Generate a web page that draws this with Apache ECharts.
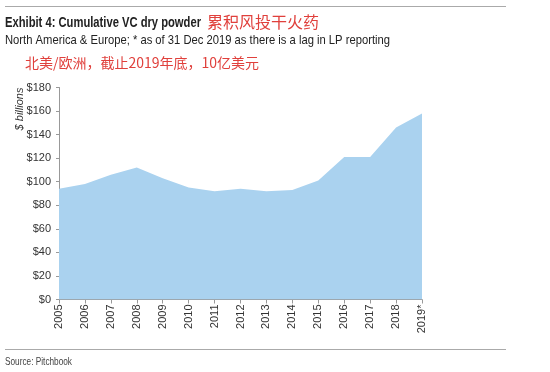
<!DOCTYPE html>
<html><head><meta charset="utf-8">
<script src="https://cdn.jsdelivr.net/npm/echarts@6/dist/echarts.min.js"></script>
<style>html,body{margin:0;padding:0;background:#fff}#c{width:550px;height:372px}</style>
</head><body><div id="c"></div>
<script>
var years = ['2005','2006','2007','2008','2009','2010','2011','2012','2013','2014','2015','2016','2017','2018','2019*'];
var dryPowder = [94, 98, 106, 112, 103, 95, 92, 94, 92, 93, 101, 121, 121, 146, 158];
var yTicks = [0, 20, 40, 60, 80, 100, 120, 140, 160, 180];

var sans = '"Liberation Sans",Arial,sans-serif';
var cjk = '"Noto Sans CJK SC","Noto Sans",sans-serif';
var ctx = document.createElement('canvas').getContext('2d');
function fitScale(text, font, width) { ctx.font = font; return width / ctx.measureText(text).width; }

var titleText = 'Exhibit 4: Cumulative VC dry powder';
var titleFont = 'bold 14px ' + sans;
var subText = 'North America & Europe; * as of 31 Dec 2019 as there is a lag in LP reporting';
var subFont = '13px ' + sans;
var srcText = 'Source: Pitchbook';
var srcFont = '11px ' + sans;

var chart = echarts.init(document.getElementById('c'));
chart.setOption({
  animation: false,
  backgroundColor: '#fff',
  grid: {left: 59, right: 128, top: 87.5, bottom: 72.5},
  xAxis: {
    type: 'category', data: years, boundaryGap: false,
    axisLine: {show: true, lineStyle: {color: '#999', width: 1}},
    axisTick: {show: true, alignWithLabel: true, length: 4, lineStyle: {color: '#999'}},
    axisLabel: {rotate: 90, color: '#333', fontSize: 11, fontFamily: sans, margin: 5, interval: 0}
  },
  yAxis: {
    type: 'value', min: yTicks[0], max: yTicks[yTicks.length-1], interval: 20,
    axisLine: {show: true, lineStyle: {color: '#999', width: 1}},
    axisTick: {show: true, length: 3, lineStyle: {color: '#999'}},
    splitLine: {show: false},
    axisLabel: {color: '#333', fontSize: 11, fontFamily: sans, margin: 8, formatter: function(v){return '$' + v;}}
  },
  series: [{
    type: 'line', data: dryPowder, symbol: 'none',
    lineStyle: {width: 0}, areaStyle: {color: '#aad2ef', opacity: 1}
  }],
  graphic: [
    {type: 'line', shape: {x1: 5, y1: 6.5, x2: 506, y2: 6.5}, style: {stroke: '#aaa', lineWidth: 1}},
    {type: 'text', x: 5, y: 23, scaleX: fitScale(titleText, titleFont, 196), originX: 0,
      style: {text: titleText, font: titleFont, fill: '#222', verticalAlign: 'middle'}},
    {type: 'text', x: 207, y: 22, style: {text: '累积风投干火药', font: '16px ' + cjk, fill: '#e0403c', verticalAlign: 'middle'}},
    {type: 'text', x: 5, y: 40, scaleX: fitScale(subText, subFont, 385),
      style: {text: subText, font: subFont, fill: '#222', verticalAlign: 'middle'}},
    {type: 'text', x: 25, y: 63, style: {text: '北美/欧洲，截止2019年底，10亿美元', font: '14px ' + cjk, fill: '#e0403c', verticalAlign: 'middle'}},
    {type: 'text', x: 20, y: 109, rotation: Math.PI / 2,
      style: {text: '$ billions', font: 'italic 11px ' + sans, fill: '#333', align: 'center', verticalAlign: 'middle'}},
    {type: 'line', shape: {x1: 5, y1: 349.5, x2: 506, y2: 349.5}, style: {stroke: '#aaa', lineWidth: 1}},
    {type: 'text', x: 5, y: 362, scaleX: fitScale(srcText, srcFont, 67),
      style: {text: srcText, font: srcFont, fill: '#444', verticalAlign: 'middle'}}
  ]
});
</script></body></html>
